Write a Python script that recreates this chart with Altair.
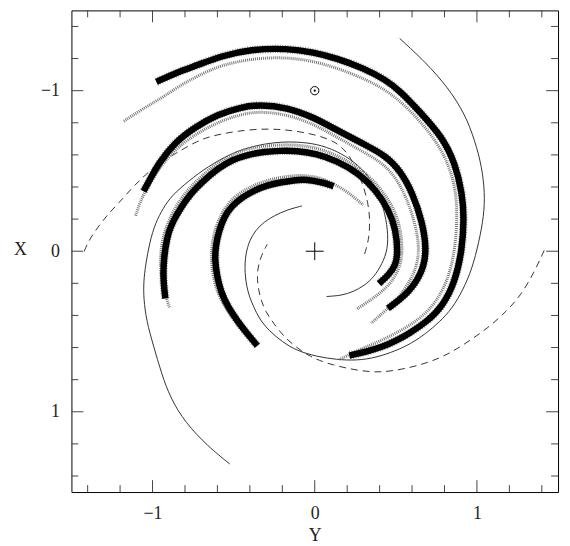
import altair as alt
import pandas as pd

# ---- spiral tracings (Y horizontal, X vertical) ----
solid1_Y = [0.524, 0.683, 0.823, 0.927, 0.988, 1.030, 1.049, 1.043, 1.012, 0.970, 0.915, 0.848, 0.768, 0.683,
            0.591, 0.500, 0.378, 0.256, 0.134, 0.012, -0.110, -0.201, -0.280, -0.341, -0.378, -0.415, -0.433,
            -0.427, -0.402, -0.366, -0.311, -0.250, -0.171, -0.079]
solid1_X = [-1.325, -1.178, -1.018, -0.853, -0.687, -0.528, -0.362, -0.221, -0.055, 0.110, 0.239, 0.356, 0.442, 0.515,
            0.577, 0.620, 0.663, 0.681, 0.675, 0.656, 0.620, 0.564, 0.497, 0.423, 0.344, 0.252, 0.129,
            0.018, -0.067, -0.129, -0.184, -0.221, -0.258, -0.282]

solid2_Y = [-0.524, -0.659, -0.799, -0.890, -0.945, -0.994, -1.037, -1.055, -1.055, -1.043, -1.018, -0.982, -0.933,
            -0.884, -0.780, -0.659, -0.518, -0.415, -0.311, -0.201, -0.110, 0.012, 0.134, 0.244, 0.329, 0.390,
            0.427, 0.451, 0.451, 0.415, 0.366, 0.305, 0.238, 0.165, 0.073]
solid2_X = [1.325, 1.215, 1.067, 0.914, 0.761, 0.589, 0.436, 0.294, 0.190, 0.086, -0.055, -0.178, -0.270,
            -0.344, -0.436, -0.528, -0.607, -0.644, -0.669, -0.681, -0.681, -0.669, -0.626, -0.558, -0.472, -0.374,
            -0.258, -0.135, -0.012, 0.080, 0.160, 0.215, 0.252, 0.276, 0.282]

dashed1_Y = [-1.421, -1.390, -1.329, -1.268, -1.207, -1.128, -1.024, -0.933, -0.860, -0.768, -0.677, -0.579, -0.476,
             -0.354, -0.232, -0.110, 0.012, 0.134, 0.207, 0.256, 0.299, 0.329, 0.341, 0.335, 0.317, 0.299]
dashed1_X = [0.000, -0.074, -0.160, -0.239, -0.301, -0.393, -0.497, -0.564, -0.607, -0.663, -0.706, -0.730, -0.748,
             -0.761, -0.761, -0.748, -0.724, -0.681, -0.607, -0.515, -0.411, -0.301, -0.196, -0.086, -0.012, 0.043]

dashed2_Y = [1.415, 1.354, 1.274, 1.183, 1.067, 0.927, 0.787, 0.622, 0.470, 0.360, 0.226, 0.073, -0.030, -0.110,
             -0.189, -0.250, -0.305, -0.335, -0.354, -0.354, -0.329, -0.293]
dashed2_X = [-0.006, 0.129, 0.270, 0.374, 0.479, 0.577, 0.663, 0.718, 0.748, 0.755, 0.736, 0.699, 0.656, 0.601,
             0.534, 0.454, 0.374, 0.294, 0.202, 0.110, 0.025, -0.043]

# ---- arms: dense (black) bands ----
armA_Y = [-0.976, -0.860, -0.720, -0.579, -0.396, -0.171, -0.006, 0.134, 0.299, 0.439, 0.530, 0.640, 0.787, 0.866,
          0.909, 0.921, 0.909, 0.866, 0.787, 0.695, 0.579, 0.500, 0.421, 0.317, 0.213]
armA_X = [-1.055, -1.110, -1.160, -1.215, -1.258, -1.264, -1.239, -1.202, -1.141, -1.067, -0.994, -0.877, -0.712,
          -0.546, -0.362, -0.209, -0.012, 0.190, 0.344, 0.436, 0.515, 0.558, 0.595, 0.626, 0.650]

armB_Y = [-1.055, -1.012, -0.963, -0.860, -0.738, -0.598, -0.457, -0.341, -0.171, -0.006, 0.134, 0.299, 0.439, 0.530,
          0.604, 0.665, 0.689, 0.671, 0.634, 0.579, 0.518, 0.451]
armB_X = [-0.374, -0.454, -0.546, -0.681, -0.773, -0.853, -0.896, -0.914, -0.896, -0.834, -0.755, -0.669, -0.595,
          -0.497, -0.362, -0.178, -0.012, 0.098, 0.178, 0.252, 0.307, 0.356]

armC_Y = [-0.921, -0.933, -0.933, -0.921, -0.902, -0.872, -0.823, -0.762, -0.689, -0.598, -0.506, -0.415, -0.311,
          -0.213, -0.110, 0.012, 0.134, 0.274, 0.378, 0.457, 0.500, 0.512, 0.500, 0.457, 0.396]
armC_X = [0.294, 0.190, 0.086, -0.025, -0.117, -0.190, -0.276, -0.362, -0.436, -0.515, -0.571, -0.601, -0.620,
          -0.626, -0.626, -0.607, -0.564, -0.485, -0.380, -0.258, -0.135, 0.006, 0.086, 0.147, 0.202]

armD_Y = [-0.354, -0.415, -0.476, -0.537, -0.579, -0.604, -0.616, -0.610, -0.591, -0.561, -0.512, -0.445, -0.372,
          -0.293, -0.213, -0.128, -0.049, 0.043, 0.116]
armD_X = [0.589, 0.515, 0.436, 0.344, 0.252, 0.147, 0.049, -0.037, -0.123, -0.209, -0.282, -0.337, -0.380,
          -0.411, -0.429, -0.442, -0.448, -0.429, -0.405]

# ---- arms: star tracers (grey) ----
starsA_Y = [-1.177, -1.085, -0.994, -0.921, -0.823, -0.720, -0.579, -0.372, -0.171, 0.030, 0.238, 0.396, 0.518,
            0.640, 0.762, 0.835, 0.872, 0.878, 0.866, 0.823, 0.744, 0.652, 0.549, 0.409, 0.287, 0.152]
starsA_X = [-0.810, -0.871, -0.926, -0.969, -1.037, -1.092, -1.160, -1.202, -1.209, -1.178, -1.104, -1.031, -0.945,
            -0.822, -0.669, -0.515, -0.362, -0.209, -0.012, 0.178, 0.325, 0.417, 0.485, 0.558, 0.607, 0.675]

starsB_Y = [-1.104, -1.079, -1.037, -0.982, -0.872, -0.744, -0.598, -0.457, -0.341, -0.171, -0.006, 0.134, 0.287,
            0.415, 0.500, 0.567, 0.622, 0.646, 0.628, 0.585, 0.524, 0.439, 0.348]
starsB_X = [-0.221, -0.301, -0.393, -0.485, -0.626, -0.724, -0.804, -0.853, -0.871, -0.853, -0.791, -0.712, -0.626,
            -0.552, -0.460, -0.331, -0.166, -0.012, 0.098, 0.190, 0.282, 0.368, 0.448]

starsC_Y = [-0.896, -0.927, -0.951, -0.951, -0.933, -0.896, -0.848, -0.780, -0.707, -0.616, -0.518, -0.421, -0.311,
            -0.213, -0.110, 0.018, 0.146, 0.293, 0.402, 0.488, 0.530, 0.543, 0.524, 0.476, 0.415, 0.341, 0.256]
starsC_X = [0.350, 0.252, 0.129, 0.006, -0.104, -0.202, -0.294, -0.387, -0.460, -0.540, -0.601, -0.638, -0.656,
            -0.663, -0.663, -0.644, -0.595, -0.509, -0.399, -0.270, -0.141, 0.006, 0.104, 0.190, 0.252, 0.307, 0.362]

starsD_Y = [-0.366, -0.433, -0.494, -0.555, -0.604, -0.628, -0.640, -0.634, -0.616, -0.579, -0.530, -0.457, -0.378,
            -0.293, -0.213, -0.128, -0.043, 0.049, 0.134, 0.213, 0.299]
starsD_X = [0.577, 0.515, 0.436, 0.344, 0.252, 0.147, 0.049, -0.043, -0.135, -0.227, -0.307, -0.368, -0.411,
            -0.442, -0.460, -0.472, -0.472, -0.454, -0.411, -0.362, -0.288]

# ---- markers ----
sun_Y, sun_X = [0.0], [-1.0]
centre_Y, centre_X = [0.0], [0.0]

# ---- axis ticks ----
major_ticks = [-1, 0, 1]
minor_ticks = [-1.4, -1.2, -0.8, -0.6, -0.4, -0.2, 0.2, 0.4, 0.6, 0.8, 1.2, 1.4]

curves = {
    "solid1": ("solid", solid1_Y, solid1_X), "solid2": ("solid", solid2_Y, solid2_X),
    "dashed1": ("dashed", dashed1_Y, dashed1_X), "dashed2": ("dashed", dashed2_Y, dashed2_X),
    "starsA": ("stars", starsA_Y, starsA_X), "starsB": ("stars", starsB_Y, starsB_X),
    "starsC": ("stars", starsC_Y, starsC_X), "starsD": ("stars", starsD_Y, starsD_X),
    "armA": ("thick", armA_Y, armA_X), "armB": ("thick", armB_Y, armB_X),
    "armC": ("thick", armC_Y, armC_X), "armD": ("thick", armD_Y, armD_X),
}
rows = []
for name, (kind, ys, xs) in curves.items():
    for i, (yv, xv) in enumerate(zip(ys, xs)):
        rows.append({"curve": name, "kind": kind, "i": i, "Y": yv, "X": xv})
df = pd.DataFrame(rows)

W, H = 491, 486
FONT = "Liberation Serif"
minus_expr = "datum.value < 0 ? '\u2212' + abs(datum.value) : '' + datum.value"

SX = alt.Scale(domain=[-1.5, 1.5], nice=False, zero=False)
SY = alt.Scale(domain=[-1.5, 1.5], reverse=True, nice=False, zero=False)
AX = alt.Axis(values=major_ticks, title="Y", grid=False, ticks=False, domain=False,
              labelFont=FONT, labelFontSize=18, labelColor="#222", labelPadding=13,
              labelExpr=minus_expr,
              titleFont=FONT, titleFontSize=18, titleFontWeight="normal", titleColor="#222",
              titleBaseline="middle", titleY=44)
AY = alt.Axis(values=major_ticks, title="X", grid=False, ticks=False, domain=False,
              labelFont=FONT, labelFontSize=18, labelColor="#222", labelPadding=12,
              labelExpr=minus_expr,
              titleFont=FONT, titleFontSize=18, titleFontWeight="normal", titleColor="#222",
              titleAngle=0, titleAlign="center", titleBaseline="middle",
              titleX=-52, titleY=241)


def xe():
    return alt.X("Y:Q", scale=SX, axis=AX)


def ye():
    return alt.Y("X:Q", scale=SY, axis=AY)


base = alt.Chart(df).encode(x=xe(), y=ye(), detail="curve:N", order="i:Q")

solid = base.transform_filter(alt.datum.kind == "solid").mark_line(
    color="#333", strokeWidth=1, interpolate="basis")
dashed = base.transform_filter(alt.datum.kind == "dashed").mark_line(
    color="#333", strokeWidth=1, strokeDash=[7, 5], interpolate="basis")
stars_fringe = base.transform_filter(alt.datum.kind == "thick").mark_line(
    color="#999", strokeWidth=8.5, strokeDash=[1, 1.5], interpolate="basis")
stars = base.transform_filter(alt.datum.kind == "stars").mark_line(
    color="#777", strokeWidth=3, strokeDash=[1, 1], interpolate="basis")
thick = base.transform_filter(alt.datum.kind == "thick").mark_line(
    color="black", strokeWidth=6.5, interpolate="basis")

sun_df = pd.DataFrame({"Y": sun_Y, "X": sun_X})
sun = alt.Chart(sun_df).mark_point(
    shape="circle", size=70, filled=False, color="black", strokeWidth=1, opacity=1).encode(x=xe(), y=ye())
sun_dot = alt.Chart(sun_df).mark_point(
    shape="circle", size=5, filled=True, color="black", opacity=1).encode(x=xe(), y=ye())
centre = alt.Chart(pd.DataFrame({"Y": centre_Y, "X": centre_X})).mark_point(
    shape="M-1,0L1,0M0,-1L0,1", size=324, filled=False, color="black", strokeWidth=1, opacity=1
).encode(x=xe(), y=ye())

tick_layers = []
for vals, L in ((major_ticks, 12), (minor_ticks, 7)):
    tdx = pd.DataFrame({"Y": vals})
    tdy = pd.DataFrame({"X": vals})
    tick_layers += [
        alt.Chart(tdx).mark_rule(color="#444", strokeWidth=1).encode(x=xe(), y=alt.value(H), y2=alt.value(H - L)),
        alt.Chart(tdx).mark_rule(color="#444", strokeWidth=1).encode(x=xe(), y=alt.value(0), y2=alt.value(L)),
        alt.Chart(tdy).mark_rule(color="#444", strokeWidth=1).encode(y=ye(), x=alt.value(0), x2=alt.value(L)),
        alt.Chart(tdy).mark_rule(color="#444", strokeWidth=1).encode(y=ye(), x=alt.value(W), x2=alt.value(W - L)),
    ]

chart = alt.layer(solid, dashed, stars_fringe, stars, thick, sun, sun_dot, centre, *tick_layers).properties(
    width=W, height=H,
    autosize=alt.AutoSizeParams(type="none"),
    padding={"left": 64, "top": 0, "right": 4, "bottom": 50},
).configure_view(stroke="black", strokeWidth=1)

chart.save("out.html", embed_options={"renderer": "svg", "actions": False})
